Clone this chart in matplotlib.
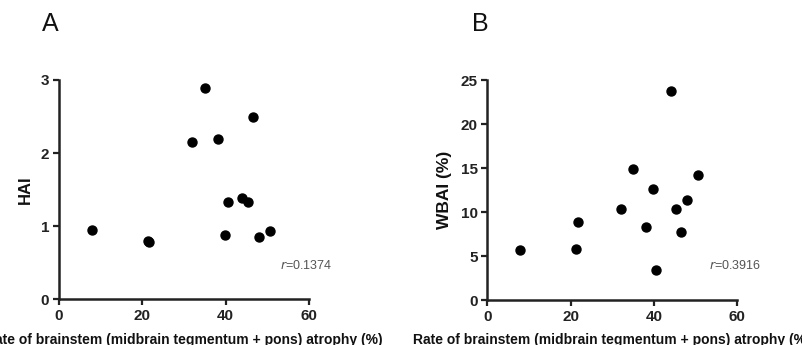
import matplotlib
matplotlib.use("Agg")
import matplotlib.pyplot as plt

# Shared x values: rate of brainstem atrophy (%)
atrophy = [7.9, 21.4, 21.7, 32.0, 35.1, 38.2, 39.8, 40.6, 44.0, 45.3, 46.5, 47.9, 50.6]
hai = [0.95, 0.80, 0.79, 2.15, 2.89, 2.19, 0.875, 1.33, 1.39, 1.335, 2.50, 0.857, 0.934]
wbai = [5.68, 5.83, 8.83, 10.38, 14.9, 8.3, 12.65, 3.37, 23.7, 10.3, 7.77, 11.36, 14.17]

x_ticks = [0, 20, 40, 60]
hai_ticks = [0, 1, 2, 3]
wbai_ticks = [0, 5, 10, 15, 20, 25]
xlabel = "Rate of brainstem (midbrain tegmentum + pons) atrophy (%)"

plt.rcParams['font.family'] = ['Liberation Sans', 'DejaVu Sans']

fig = plt.figure(figsize=(8.03, 3.45), dpi=100)
axA = fig.add_axes([0.0735, 0.1325, 0.3113, 0.6357])
axB = fig.add_axes([0.6068, 0.1304, 0.3113, 0.6377])

def style(ax, y, yticks, ylabel, ylsize, rtext, letter, letter_x):
    ax.scatter(atrophy, y, s=42, color='black', zorder=3, clip_on=False)
    ax.set_xlim(0, 60)
    ax.set_ylim(yticks[0], yticks[-1])
    ax.set_xticks(x_ticks)
    ax.set_yticks(yticks)
    for s in ['top', 'right']:
        ax.spines[s].set_visible(False)
    for s in ['left', 'bottom']:
        ax.spines[s].set_linewidth(1.8)
        ax.spines[s].set_color('#222222')
    ax.tick_params(direction='out', length=4, width=1.6, colors='#222222',
                   labelsize=11, pad=3)
    for lab in ax.get_xticklabels() + ax.get_yticklabels():
        lab.set_fontweight('bold')
    ax.set_xlabel(xlabel, fontsize=10, fontweight='bold', color='#111111',
                  labelpad=7)
    ax.set_ylabel(ylabel, fontsize=ylsize, fontweight='bold', color='#111111',
                  labelpad=6)
    ax.text(0.99, 0.156, rtext, transform=ax.transAxes, ha='center', va='center',
            fontsize=9, color='#555555')
    fig.text(letter_x, 0.93, letter, fontsize=18, color='#111111',
             ha='center', va='center')

style(axA, hai, hai_ticks, "HAI", 12, "$r$=0.1374", "A", 50 / 803)
style(axB, wbai, wbai_ticks, "WBAI (%)", 12.5, "$r$=0.3916", "B", 480 / 803)

fig.savefig("out.png", dpi=100)
